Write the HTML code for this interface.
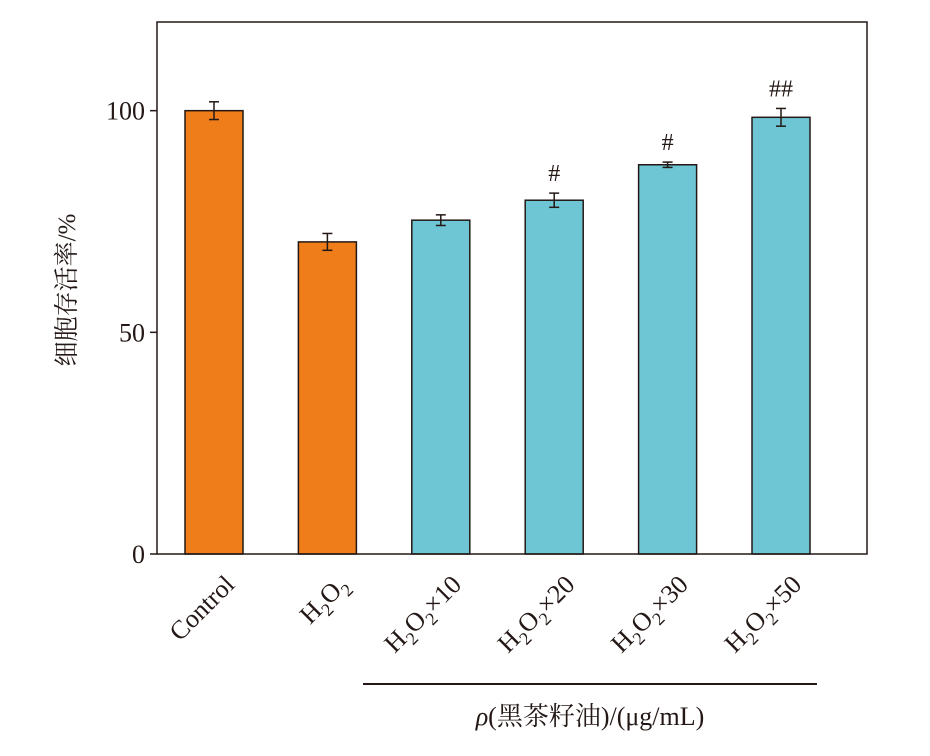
<!DOCTYPE html>
<html><head><meta charset="utf-8"><style>
html,body{margin:0;padding:0;background:#fff;}
svg text{font-family:"Liberation Serif","Noto Serif CJK SC",serif;fill:#231815;}
</style></head><body>
<svg id="chart" width="930" height="751" viewBox="0 0 930 751" xmlns="http://www.w3.org/2000/svg">
<g id="plot"></g>
</svg>
<script>
const categories = ["Control","H2O2","H2O2+10","H2O2+20","H2O2+30","H2O2+50"];
const values = [100, 70.4, 75.3, 79.8, 87.8, 98.5];
const errors = [2.0, 1.9, 1.2, 1.6, 0.6, 2.0];
const marks = ["", "", "", "#", "#", "##"];
const colors = ["#ef7d1a","#ef7d1a","#6ec6d4","#6ec6d4","#6ec6d4","#6ec6d4"];
const yTicks = [0, 50, 100];

const NS = "http://www.w3.org/2000/svg";
const g = document.getElementById("plot");
const L = 157, R = 867, T = 22, B = 554, YMAX = 120;
const y = v => B - (v / YMAX) * (B - T);
const x = i => 214 + i * 113.4;
const BW = 58;
function mk(tag, attrs, parent) {
  const e = document.createElementNS(NS, tag);
  for (const k in attrs) e.setAttribute(k, attrs[k]);
  (parent || g).appendChild(e);
  return e;
}
// bars
categories.forEach((c, i) => {
  const b = mk("rect", {x: x(i) - BW / 2, y: y(values[i]), width: BW, height: B - y(values[i]), fill: colors[i], stroke: "#231815", "stroke-width": 1.5});
  
  
  const eg = mk("g", {stroke: "#231815", "stroke-width": 1.5});
  
  
  const top = y(values[i] + errors[i]), bot = y(values[i] - errors[i]);
  mk("line", {x1: x(i), x2: x(i), y1: top, y2: bot}, eg);
  mk("line", {x1: x(i) - 5, x2: x(i) + 5, y1: top, y2: top}, eg);
  mk("line", {x1: x(i) - 5, x2: x(i) + 5, y1: bot, y2: bot}, eg);
  if (marks[i]) {
    const t = mk("text", {x: x(i), y: top - 12, "text-anchor": "middle", "font-size": 24});
    t.textContent = marks[i];
    
    
  }
  // x label
  const lx = x(i) + 22, ly = 586;
  const t = mk("text", {x: lx, y: ly, "text-anchor": "end", "font-size": 26, transform: `rotate(-45 ${lx} ${ly})`});
  
  
  if (c === "Control") t.textContent = c;
  else {
    const parts = [["H",0],["2",1],["O",0],["2",1]];
    parts.forEach(([s, sub]) => {
      const ts = mk("tspan", sub ? {"font-size": 18, dy: 7} : {dy: ts_last}, t);
      ts.textContent = s;
    });
    function fix(){}
    const rest = c.slice(4);
    if (rest) { const ts = mk("tspan", {}, t); ts.textContent = rest.replace("+", "×"); }
  }
});
var ts_last = 0;
// fix subscript baselines
document.querySelectorAll("text tspan").forEach(ts => {
  if (ts.getAttribute("font-size") === "18") {
    const nx = ts.nextSibling;
    if (nx) nx.setAttribute("dy", -7);
  } else if (ts.getAttribute("dy") === "undefined") ts.removeAttribute("dy");
});
// frame
const fr = mk("rect", {x: L, y: T, width: R - L, height: B - T, fill: "none", stroke: "#231815", "stroke-width": 1.5});


// y ticks
yTicks.forEach(v => {
  const l = mk("line", {x1: L - 7, x2: L, y1: y(v), y2: y(v), stroke: "#231815", "stroke-width": 1.5});
  
  
  const t = mk("text", {x: L - 12, y: y(v) + 9, "text-anchor": "end", "font-size": 26});
  t.textContent = v;
  
  
});
// y title
const yt = mk("text", {x: 75, y: 290, "text-anchor": "middle", "font-size": 25, transform: "rotate(-90 75 290)"});
yt.textContent = "细胞存活率/%";


// bracket line and x title
const bl = mk("line", {x1: 363, x2: 817, y1: 684, y2: 684, stroke: "#231815", "stroke-width": 2});


const xt = mk("text", {x: 590, y: 725, "text-anchor": "middle", "font-size": 26});
xt.innerHTML = '<tspan font-style="italic">ρ</tspan>(黑茶籽油)/(μg/mL)';


</script>
</body></html>
